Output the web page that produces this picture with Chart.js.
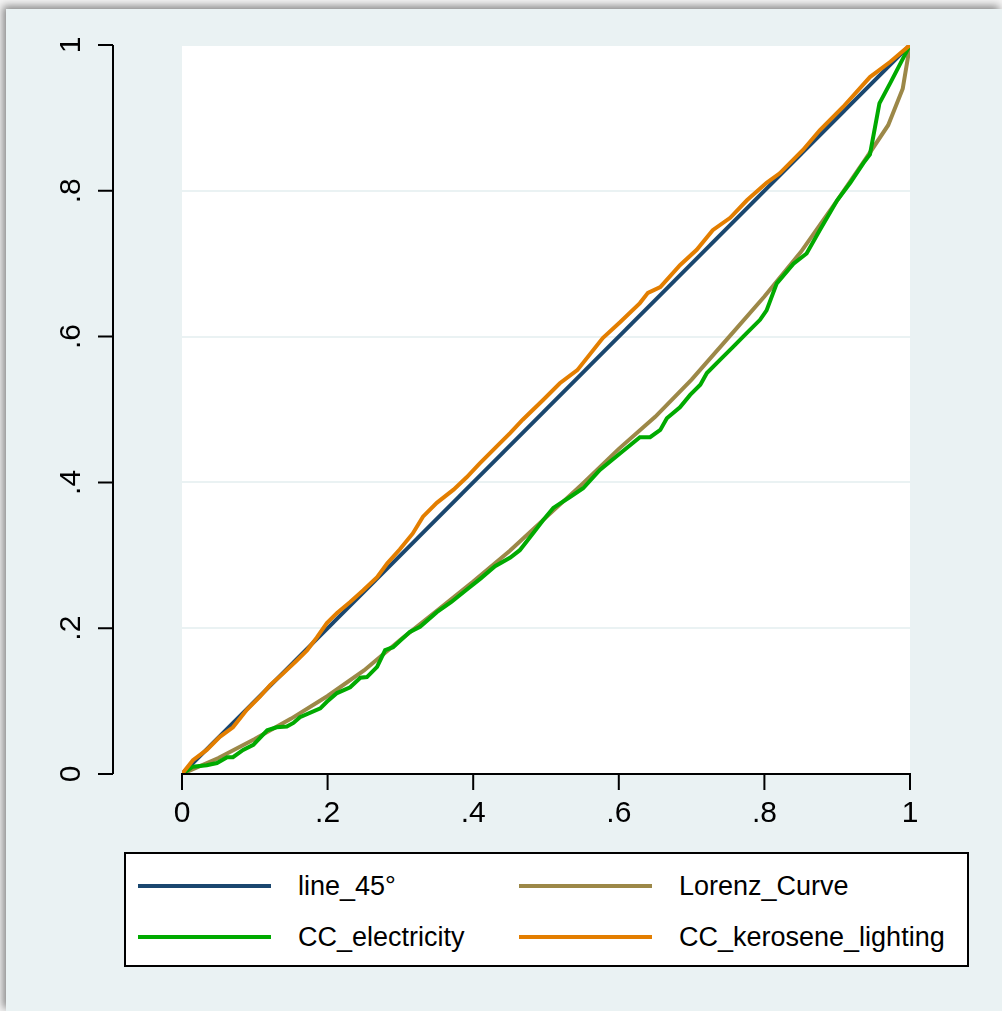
<!DOCTYPE html>
<html>
<head>
<meta charset="utf-8">
<script src="https://cdn.jsdelivr.net/npm/chart.js@4.4.0/dist/chart.umd.min.js"></script>
<style>
  html, body { margin: 0; padding: 0; background: #f4f4f4; }
  body { width: 1002px; height: 1011px; position: relative; overflow: hidden; }
  #panel {
    position: absolute; left: 6px; top: 9px; width: 996px; height: 1002px;
    background: #eaf2f3; box-shadow: -3px -3px 8px rgba(0, 0, 0, 0.45);
  }
  #chart { position: absolute; left: 0; top: 0; }
  #legend {
    position: absolute; left: 124px; top: 852px; width: 841px; height: 111px;
    background: #fff; border: 2px solid #000;
    font-family: "Liberation Sans", Arial, sans-serif; font-size: 27px; color: #000;
  }
  .item { position: absolute; height: 34px; }
  .swatch { position: absolute; left: 0; top: 15px; width: 133px; height: 4px; }
  .label { position: absolute; left: 160px; top: 0; line-height: 34px; white-space: nowrap; }
</style>
</head>
<body>
<div id="panel"></div>
<canvas id="chart" width="1002" height="1011"></canvas>
<div id="legend"></div>
<script>
const seriesNames = ["line_45°", "Lorenz_Curve", "CC_electricity", "CC_kerosene_lighting"];
const seriesColors = ["#1a476f", "#9c8848", "#00aa00", "#e37e00"];

const tickValues = [0, 0.2, 0.4, 0.6, 0.8, 1];
const tickLabels = ["0", ".2", ".4", ".6", ".8", "1"];

const diagX = [0, 1];
const diagY = [0, 1];

const lorenzX = [0, 0.05, 0.1, 0.15, 0.2, 0.25, 0.3, 0.35, 0.4, 0.45, 0.5, 0.55, 0.6, 0.65,
  0.7, 0.75, 0.8, 0.85, 0.9, 0.94, 0.97, 0.99, 1];
const lorenzY = [0, 0.022, 0.048, 0.076, 0.107, 0.142, 0.184, 0.224, 0.264, 0.306, 0.352, 0.398,
  0.446, 0.49, 0.541, 0.598, 0.655, 0.716, 0.787, 0.845, 0.89, 0.94, 1];

const elecX = [0, 0.015, 0.034, 0.048, 0.062, 0.07, 0.084, 0.098, 0.117, 0.13, 0.144, 0.153,
  0.162, 0.19, 0.199, 0.213, 0.231, 0.245, 0.254, 0.268, 0.279, 0.29, 0.313, 0.327, 0.35,
  0.37, 0.39, 0.41, 0.43, 0.451, 0.464, 0.482, 0.496, 0.51, 0.533, 0.551, 0.574, 0.602,
  0.629, 0.643, 0.657, 0.666, 0.684, 0.698, 0.712, 0.721, 0.739, 0.757, 0.776, 0.794,
  0.803, 0.817, 0.84, 0.858, 0.876, 0.9, 0.918, 0.936, 0.945, 0.958, 0.973, 1];
const elecY = [0, 0.01, 0.012, 0.015, 0.023, 0.023, 0.033, 0.04, 0.06, 0.064, 0.065, 0.07,
  0.078, 0.09, 0.099, 0.111, 0.119, 0.132, 0.133, 0.147, 0.17, 0.174, 0.195, 0.202, 0.222,
  0.236, 0.252, 0.268, 0.285, 0.297, 0.307, 0.33, 0.348, 0.365, 0.38, 0.392, 0.417, 0.44,
  0.462, 0.462, 0.472, 0.488, 0.503, 0.52, 0.534, 0.55, 0.568, 0.586, 0.605, 0.623,
  0.636, 0.673, 0.7, 0.714, 0.746, 0.787, 0.811, 0.838, 0.85, 0.92, 0.948, 1];

const keroX = [0, 0.015, 0.034, 0.052, 0.07, 0.089, 0.107, 0.121, 0.139, 0.158, 0.172, 0.185,
  0.199, 0.213, 0.231, 0.249, 0.268, 0.282, 0.299, 0.317, 0.331, 0.35, 0.373, 0.391, 0.409,
  0.432, 0.451, 0.468, 0.496, 0.519, 0.543, 0.578, 0.602, 0.629, 0.64, 0.657, 0.684, 0.707,
  0.729, 0.753, 0.776, 0.803, 0.821, 0.853, 0.876, 0.908, 0.945, 0.973, 1];
const keroY = [0, 0.019, 0.033, 0.051, 0.064, 0.088, 0.106, 0.122, 0.138, 0.156, 0.17, 0.187,
  0.207, 0.221, 0.236, 0.252, 0.27, 0.289, 0.308, 0.33, 0.353, 0.372, 0.39, 0.407, 0.426,
  0.449, 0.468, 0.486, 0.513, 0.536, 0.554, 0.598, 0.62, 0.646, 0.66, 0.668, 0.698, 0.719,
  0.746, 0.763, 0.787, 0.811, 0.824, 0.856, 0.883, 0.915, 0.956, 0.977, 1];

const toPoints = (xs, ys) => xs.map((x, i) => ({ x: x, y: ys[i] }));
const allX = [diagX, lorenzX, elecX, keroX];
const allY = [diagY, lorenzY, elecY, keroY];

const datasets = seriesNames.map((name, i) => ({
  label: name,
  data: toPoints(allX[i], allY[i]),
  borderColor: seriesColors[i],
  backgroundColor: seriesColors[i],
  borderWidth: 4,
  pointRadius: 0,
  showLine: true,
  tension: 0,
  order: seriesNames.length - i,
}));

const tickFont = '30px "Liberation Sans", Arial, sans-serif';

// white plot region + stata style axes (y axis set off from the plot)
const stataAxes = {
  id: "stataAxes",
  beforeDraw(chart) {
    const a = chart.chartArea;
    const ctx = chart.ctx;
    ctx.save();
    ctx.fillStyle = "#ffffff";
    ctx.fillRect(a.left, a.top, a.right - a.left, a.bottom - a.top);
    ctx.restore();
  },
  afterDraw(chart) {
    const ctx = chart.ctx;
    const xs = chart.scales.x;
    const ys = chart.scales.y;
    const axisX = 113;
    ctx.save();
    ctx.strokeStyle = "#000";
    ctx.fillStyle = "#000";
    ctx.lineWidth = 2;
    ctx.font = tickFont;

    // y axis
    ctx.beginPath();
    ctx.moveTo(axisX, ys.getPixelForValue(1));
    ctx.lineTo(axisX, ys.getPixelForValue(0));
    tickValues.forEach((v) => {
      const py = ys.getPixelForValue(v);
      ctx.moveTo(axisX - 15, py);
      ctx.lineTo(axisX, py);
    });
    ctx.stroke();
    tickValues.forEach((v, i) => {
      const py = ys.getPixelForValue(v);
      ctx.save();
      ctx.translate(72, py);
      ctx.rotate(-Math.PI / 2);
      ctx.textAlign = "center";
      ctx.textBaseline = "middle";
      ctx.fillText(tickLabels[i], 0, 0);
      ctx.restore();
    });

    // x axis
    const by = ys.getPixelForValue(0);
    ctx.beginPath();
    ctx.moveTo(xs.getPixelForValue(0) - 1, by);
    ctx.lineTo(xs.getPixelForValue(1) + 1, by);
    tickValues.forEach((v) => {
      const px = xs.getPixelForValue(v);
      ctx.moveTo(px, by);
      ctx.lineTo(px, by + 16);
    });
    ctx.stroke();
    ctx.textAlign = "center";
    ctx.textBaseline = "middle";
    tickValues.forEach((v, i) => {
      ctx.fillText(tickLabels[i], xs.getPixelForValue(v), 814);
    });
    ctx.restore();
  },
};

new Chart(document.getElementById("chart").getContext("2d"), {
  type: "scatter",
  data: { datasets: datasets },
  options: {
    responsive: false,
    animation: false,
    layout: { padding: { left: 182, right: 92, top: 45, bottom: 237 } },
    scales: {
      x: {
        type: "linear",
        min: 0,
        max: 1,
        grid: { display: false, drawTicks: false },
        border: { display: false },
        ticks: { display: false },
        afterFit: (s) => { s.height = 0; },
      },
      y: {
        type: "linear",
        min: 0,
        max: 1,
        grid: {
          drawTicks: false,
          lineWidth: 2,
          color: (c) => (c.tick && c.tick.value > 0 ? "#eaf2f3" : "rgba(0,0,0,0)"),
        },
        border: { display: false },
        ticks: { display: false, stepSize: 0.2 },
        afterFit: (s) => { s.width = 0; },
      },
    },
    plugins: {
      legend: { display: false },
      tooltip: { enabled: false },
    },
  },
  plugins: [stataAxes],
});

// legend box, two columns like the original
const legendBox = document.getElementById("legend");
const legendPos = [[12, 15], [393, 15], [12, 66], [393, 66]];
seriesNames.forEach((name, i) => {
  const item = document.createElement("div");
  item.className = "item";
  item.style.left = legendPos[i][0] + "px";
  item.style.top = legendPos[i][1] + "px";
  const sw = document.createElement("div");
  sw.className = "swatch";
  sw.style.background = seriesColors[i];
  const lb = document.createElement("div");
  lb.className = "label";
  lb.textContent = name;
  item.appendChild(sw);
  item.appendChild(lb);
  legendBox.appendChild(item);
});
</script>
</body>
</html>
